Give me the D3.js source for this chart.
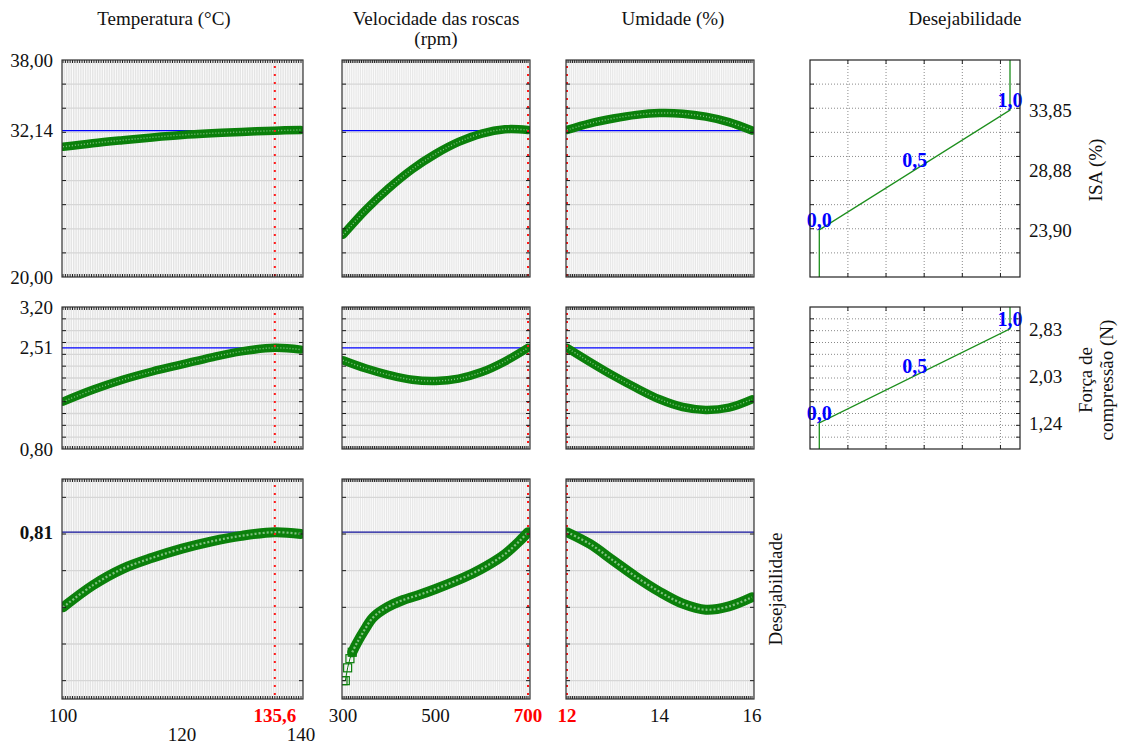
<!DOCTYPE html>
<html>
<head>
<meta charset="utf-8">
<script src="https://cdnjs.cloudflare.com/ajax/libs/d3/7.8.5/d3.min.js"></script>
<style>
  body { margin: 0; background: #fff; }
  svg text { font-family: "Liberation Serif", "DejaVu Serif", serif; fill: #111; }
</style>
</head>
<body>
<div id="chart"></div>
<script>
// factors (columns)
var factorNames = [["Temperatura (°C)"], ["Velocidade das roscas", "(rpm)"], ["Umidade (%)"]];
var factorDomains = [[100, 140], [300, 700], [12, 16]];
var factorTicks = [[100, 120, 140], [300, 500, 700], [12, 14, 16]];
var currentSetting = [135.6, 700, 12];

// responses (rows)
var responseNames = [["ISA (%)"], ["Força de", "compressão (N)"], ["Desejabilidade"]];
var responseDomains = [[20, 38], [0.8, 3.2], [-0.1, 1.1]];
var responseLabels = [[38, 32.14, 20], [3.2, 2.51, 0.8], [0.81]];
var currentResponse = [32.14, 2.51, 0.81];

// desirability functions: response value at d = 0, 0.5, 1
var desirLevels = [0, 0.5, 1];
var isaDesir = [23.90, 28.88, 33.85];
var forcaDesir = [1.24, 2.03, 2.83];

// profile traces
var tempX = [100, 105, 110, 115, 120, 125, 130, 135.6, 140];
var isaTemp = [30.8, 31.1, 31.35, 31.58, 31.78, 31.92, 32.03, 32.14, 32.2];
var forcaTemp = [1.60, 1.80, 1.97, 2.11, 2.23, 2.35, 2.45, 2.51, 2.48];
var desTemp = [0.40, 0.52, 0.61, 0.67, 0.72, 0.76, 0.79, 0.81, 0.80];

var rpmX = [300, 350, 400, 450, 500, 550, 600, 650, 700];
var isaRpm = [23.5, 25.6, 27.4, 28.95, 30.2, 31.2, 31.9, 32.25, 32.2];
var forcaRpm = [2.30, 2.16, 2.05, 1.97, 1.95, 1.99, 2.10, 2.28, 2.51];
var rpmXdes = [300, 305, 310, 315, 320, 330, 345, 365, 395, 430, 467, 500, 540, 580, 610, 650, 683, 700];
var desRpm = [0, 0, 0.07, 0.12, 0.155, 0.205, 0.27, 0.345, 0.40, 0.44, 0.47, 0.50, 0.54, 0.585, 0.625, 0.69, 0.765, 0.81];

var umidX = [12, 12.5, 13, 13.5, 14, 14.5, 15, 15.5, 16];
var isaUmid = [32.2, 32.75, 33.15, 33.45, 33.6, 33.55, 33.3, 32.85, 32.15];
var forcaUmid = [2.51, 2.27, 2.04, 1.83, 1.64, 1.51, 1.46, 1.50, 1.64];
var desUmid = [0.81, 0.745, 0.655, 0.565, 0.485, 0.42, 0.387, 0.405, 0.455];

// traces[row][col] = [xs, ys]
var traces = [
	[[tempX, isaTemp], [rpmX, isaRpm], [umidX, isaUmid]],
	[[tempX, forcaTemp], [rpmX, forcaRpm], [umidX, forcaUmid]],
	[[tempX, desTemp], [rpmXdes, desRpm], [umidX, desUmid]]
];

// layout
var width = 1121, height = 745;
var cols = [[62, 303], [342, 530], [566, 754]];
var desCol = [810, 1020];
var rows = [[60, 277], [307, 449], [479, 699]];
var titleX = [164, 436, 673, 965];
var gridTicks = [d3.range(22, 37, 2), d3.range(5, 16).map(i => i / 5), [0, 0.2, 0.4, 0.6, 0.8, 1.0]];
var desGrid = [0.15, 0.35, 0.55, 0.75, 0.95];
// labels pushed to the second line under the x axis
var droppedTicks = [[120, 140], [], []];

var fmt = d3.format(".2f"), fmt1 = d3.format(".1f");
function comma(s) { return s.replace(".", ","); }

var svg = d3.select("#chart").append("svg")
	.attr("width", width)
	.attr("height", height);

var x = cols.map(function(c, i) {
	return d3.scaleLinear().domain(factorDomains[i]).range([c[0] + 1, c[1] - 2]);
});
var y = rows.map(function(r, i) {
	return d3.scaleLinear().domain(responseDomains[i]).range([r[1], r[0]]);
});

var line = d3.line().curve(d3.curveCatmullRom.alpha(0.5));

// profile panels
rows.forEach(function(r, ri) {
	cols.forEach(function(c, ci) {
		var g = svg.append("g");
		var clipId = "clip_" + ri + "_" + ci;
		g.append("clipPath").attr("id", clipId)
			.append("rect")
			.attr("x", c[0]).attr("y", r[0])
			.attr("width", c[1] - c[0]).attr("height", r[1] - r[0]);

		var inner = g.append("g").attr("clip-path", "url(#" + clipId + ")");

		inner.append("rect")
			.attr("x", c[0]).attr("y", r[0])
			.attr("width", c[1] - c[0]).attr("height", r[1] - r[0])
			.attr("fill", "#e4e4e4");

		// dense vertical grid
		var dom = factorDomains[ci];
		var vlines = d3.range(0, 101).map(i => dom[0] + i * (dom[1] - dom[0]) / 100);
		inner.selectAll(".vg").data(vlines).enter().append("line")
			.attr("x1", d => x[ci](d)).attr("x2", d => x[ci](d))
			.attr("y1", r[0]).attr("y2", r[1])
			.attr("stroke", "#fbfbfb").attr("stroke-width", 1);

		inner.selectAll(".hg").data(gridTicks[ri]).enter().append("line")
			.attr("x1", c[0]).attr("x2", c[1])
			.attr("y1", d => y[ri](d)).attr("y2", d => y[ri](d))
			.attr("stroke", "#d6d6d6").attr("stroke-width", 1.3);

		// reference line at current response
		inner.append("line")
			.attr("x1", c[0]).attr("x2", c[1])
			.attr("y1", y[ri](currentResponse[ri])).attr("y2", y[ri](currentResponse[ri]))
			.attr("stroke", ri == 2 ? "#10109a" : "#0000ff").attr("stroke-width", 1.3);

		// the trace: dense markers drawn as a thick band
		var xs = traces[ri][ci][0], ys = traces[ri][ci][1];
		var pts = xs.map((v, i) => [x[ci](v), y[ri](ys[i])]);
		var bandW = ri == 2 ? 10 : 8.5;
		var start = 0;
		if (ri == 2 && ci == 1) {
			// steep start shows separate square markers
			start = 4;
			var first = pts.slice(0, start + 1);
			inner.append("path").attr("d", d3.line()(first))
				.attr("fill", "none").attr("stroke", "#0a7d0a").attr("stroke-width", 1);
			inner.selectAll(".sq").data(first).enter().append("rect")
				.attr("x", d => d[0] - 4).attr("y", d => d[1] - 4)
				.attr("width", 8).attr("height", 8)
				.attr("fill", "none").attr("stroke", "#0a7d0a").attr("stroke-width", 1.2);
		}
		var band = pts.slice(start);
		inner.append("path").attr("d", line(band))
			.attr("fill", "none").attr("stroke", "#0b800b")
			.attr("stroke-width", bandW).attr("stroke-linecap", "round");
		inner.append("path").attr("d", line(band))
			.attr("fill", "none").attr("stroke", "#80c280")
			.attr("stroke-width", ri == 2 ? 2.2 : 1.4)
			.attr("stroke-dasharray", ri == 2 ? "2,2" : "1,2");

		// current setting
		var cx = x[ci](currentSetting[ci]);
		inner.append("line")
			.attr("x1", cx).attr("x2", cx)
			.attr("y1", r[0] + 6).attr("y2", r[1])
			.attr("stroke", "#ff1a1a").attr("stroke-width", 2)
			.attr("stroke-dasharray", "2,6");

		// ticks
		var ticksG = g.append("g").attr("stroke", "#1a1a1a").attr("stroke-width", 1);
		ticksG.selectAll(".tt").data(vlines).enter().append("line")
			.attr("x1", d => x[ci](d)).attr("x2", d => x[ci](d))
			.attr("y1", r[0]).attr("y2", r[0] + 3);
		ticksG.selectAll(".tb").data(vlines).enter().append("line")
			.attr("x1", d => x[ci](d)).attr("x2", d => x[ci](d))
			.attr("y1", r[1] - 3).attr("y2", r[1]);
		ticksG.selectAll(".tl").data(gridTicks[ri]).enter().append("line")
			.attr("x1", c[0]).attr("x2", c[0] + 4)
			.attr("y1", d => y[ri](d)).attr("y2", d => y[ri](d));
		ticksG.selectAll(".tr").data(gridTicks[ri]).enter().append("line")
			.attr("x1", c[1] - 4).attr("x2", c[1])
			.attr("y1", d => y[ri](d)).attr("y2", d => y[ri](d));

		g.append("rect")
			.attr("x", c[0]).attr("y", r[0])
			.attr("width", c[1] - c[0]).attr("height", r[1] - r[0])
			.attr("fill", "none").attr("stroke", "#333").attr("stroke-width", 1.2);
	});

	// left labels
	svg.selectAll(".yl" + ri).data(responseLabels[ri]).enter().append("text")
		.attr("x", 53)
		.attr("y", d => y[ri](d))
		.attr("dy", "0.35em")
		.attr("text-anchor", "end")
		.style("font-size", "19px")
		.style("font-weight", ri == 2 ? "bold" : null)
		.text(d => comma(fmt(d)));
});

// column titles
factorNames.concat([["Desejabilidade"]]).forEach(function(lines, i) {
	lines.forEach(function(t, k) {
		svg.append("text")
			.attr("x", titleX[i]).attr("y", 25 + k * 20)
			.attr("text-anchor", "middle")
			.style("font-size", "19px")
			.text(t);
	});
});

// x tick labels
x.forEach(function(sc, ci) {
	var cur = currentSetting[ci];
	factorTicks[ci].filter(d => d != cur).forEach(function(d) {
		svg.append("text")
			.attr("x", sc(d))
			.attr("y", droppedTicks[ci].indexOf(d) >= 0 ? 734 : 715)
			.attr("dy", "0.35em")
			.attr("text-anchor", "middle")
			.style("font-size", "19px")
			.text(d);
	});
	svg.append("text")
		.attr("x", sc(cur)).attr("y", 715)
		.attr("dy", "0.35em")
		.attr("text-anchor", "middle")
		.style("font-size", "19px")
		.style("font-weight", "bold")
		.style("fill", "#ff0000")
		.text(comma(String(cur)));
});

// desirability function panels
var xd = d3.scaleLinear().domain([0, 1]).range([819.3, 1010]);
[isaDesir, forcaDesir].forEach(function(lim, ri) {
	var r = rows[ri];
	var g = svg.append("g");
	g.append("rect")
		.attr("x", desCol[0]).attr("y", r[0])
		.attr("width", desCol[1] - desCol[0]).attr("height", r[1] - r[0])
		.attr("fill", "#fff");

	g.selectAll(".dv").data(desGrid).enter().append("line")
		.attr("x1", d => xd(d)).attr("x2", d => xd(d))
		.attr("y1", r[0]).attr("y2", r[1])
		.attr("stroke", "#8a8a8a").attr("stroke-dasharray", "1,2");
	g.selectAll(".dh").data(gridTicks[ri]).enter().append("line")
		.attr("x1", desCol[0]).attr("x2", desCol[1])
		.attr("y1", d => y[ri](d)).attr("y2", d => y[ri](d))
		.attr("stroke", "#8a8a8a").attr("stroke-dasharray", "1,2");

	var tg = g.append("g").attr("stroke", "#222");
	tg.selectAll(".a").data(desGrid).enter().append("line")
		.attr("x1", d => xd(d)).attr("x2", d => xd(d)).attr("y1", r[0]).attr("y2", r[0] + 4);
	tg.selectAll(".b").data(desGrid).enter().append("line")
		.attr("x1", d => xd(d)).attr("x2", d => xd(d)).attr("y1", r[1] - 4).attr("y2", r[1]);
	tg.selectAll(".c").data(gridTicks[ri]).enter().append("line")
		.attr("x1", desCol[0]).attr("x2", desCol[0] + 4).attr("y1", d => y[ri](d)).attr("y2", d => y[ri](d));
	tg.selectAll(".d").data(gridTicks[ri]).enter().append("line")
		.attr("x1", desCol[1] - 4).attr("x2", desCol[1]).attr("y1", d => y[ri](d)).attr("y2", d => y[ri](d));

	var dom = responseDomains[ri];
	var fn = [[0, dom[0]], [0, lim[0]], [1, lim[2]], [1, dom[1]]];
	g.append("path")
		.attr("d", d3.line()(fn.map(p => [xd(p[0]), y[ri](p[1])])))
		.attr("fill", "none").attr("stroke", "#1d8f1d").attr("stroke-width", 1.3);

	desirLevels.forEach(function(lv, k) {
		g.append("text")
			.attr("x", xd(lv)).attr("y", y[ri](lim[k]) - 3)
			.attr("text-anchor", "middle")
			.style("font-size", "20px")
			.style("font-weight", "bold")
			.style("fill", "#0000ff")
			.text(comma(fmt1(lv)));
		g.append("text")
			.attr("x", 1029).attr("y", y[ri](lim[k]))
			.attr("dy", "0.35em")
			.style("font-size", "19px")
			.text(comma(fmt(lim[k])));
	});

	g.append("rect")
		.attr("x", desCol[0]).attr("y", r[0])
		.attr("width", desCol[1] - desCol[0]).attr("height", r[1] - r[0])
		.attr("fill", "none").attr("stroke", "#222").attr("stroke-width", 1.2);
});

// response titles, rotated
var respTitlePos = [[1095, 170], [1096, 380], [775, 589]];
responseNames.forEach(function(lines, ri) {
	var p = respTitlePos[ri];
	var n = lines.length;
	lines.forEach(function(t, k) {
		svg.append("text")
			.attr("transform", "translate(" + (p[0] + (k - (n - 1) / 2) * 21) + "," + p[1] + ") rotate(-90)")
			.attr("text-anchor", "middle")
			.attr("dy", "0.35em")
			.style("font-size", "19px")
			.text(t);
	});
});
</script>
</body>
</html>
